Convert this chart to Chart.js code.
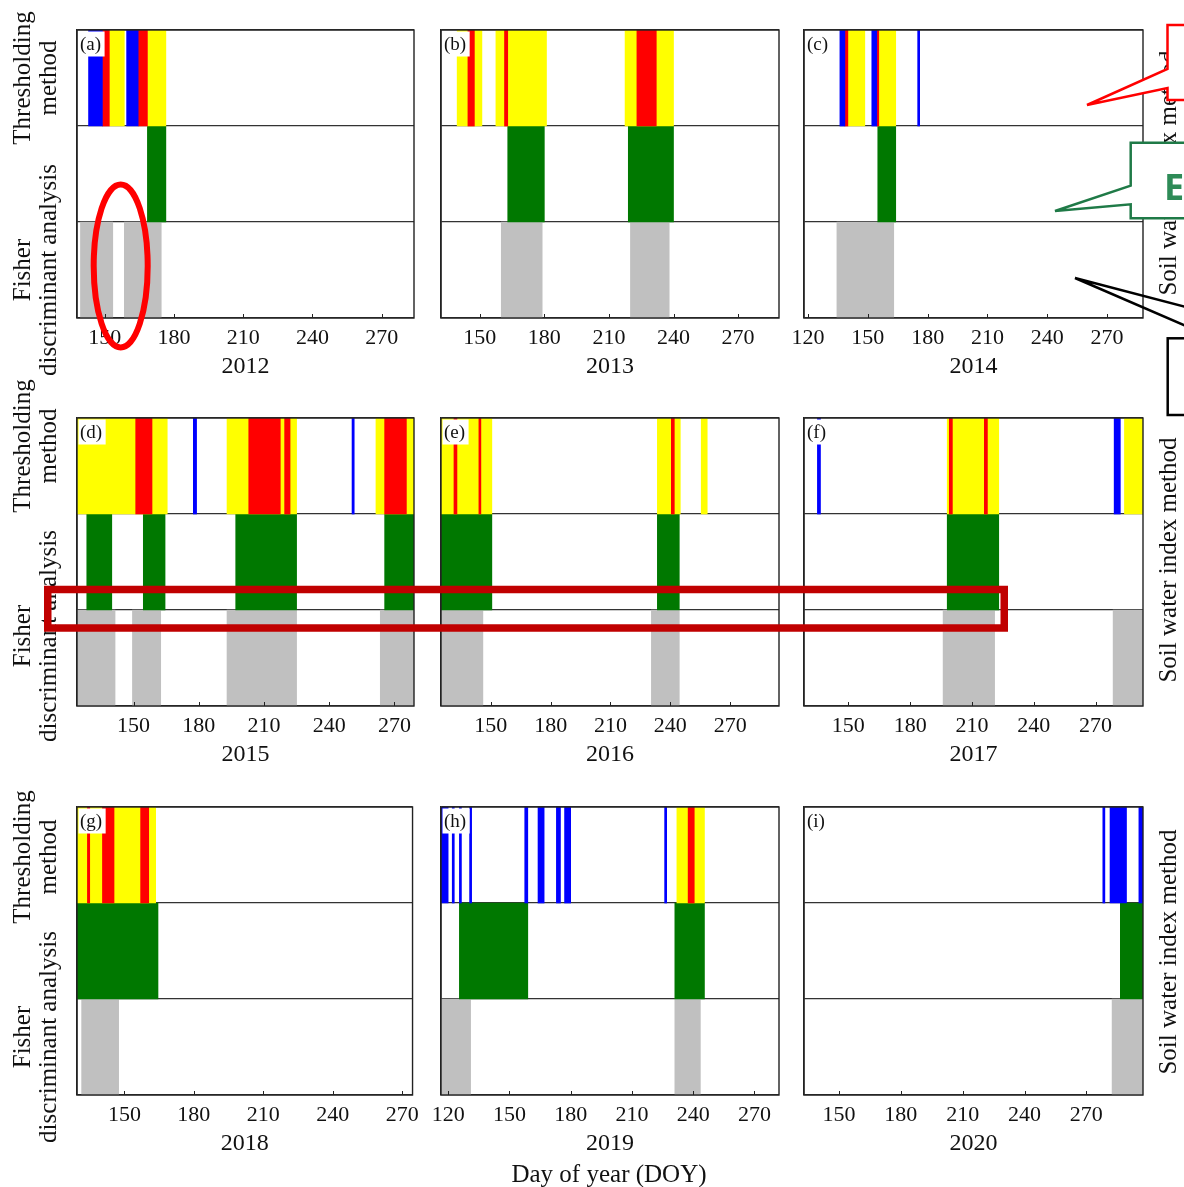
<!DOCTYPE html>
<html><head><meta charset="utf-8">
<script src="https://cdn.jsdelivr.net/npm/chart.js@4.4.1/dist/chart.umd.min.js"></script>
<style>
html,body{margin:0;padding:0;background:#fff;}
#page{position:relative;width:1184px;height:1187px;overflow:hidden;background:#fff;font-family:'Liberation Serif','Times New Roman',serif;}
#page canvas{position:absolute;}
.rot{position:absolute;transform:rotate(-90deg);white-space:nowrap;text-align:center;font-size:25px;line-height:26px;color:#111;z-index:3;}
.flat{position:absolute;white-space:nowrap;text-align:center;font-size:25px;color:#111;z-index:3;}
#ann{position:absolute;left:0;top:0;z-index:5;}
</style></head><body><div id="page"></div>
<script>
// ---------- data ----------
const years = ['2012','2013','2014','2015','2016','2017','2018','2019','2020'];
const panelTags = ['(a)','(b)','(c)','(d)','(e)','(f)','(g)','(h)','(i)'];
const rowNames = ['Thresholding method','Fisher discriminant analysis','Soil water index method'];
const doyMin = [138,132,118,124,125,128.5,129.5,116.5,133];
const doyMax = [284,289,288,279,294.5,293,274.5,282,297.5];
const tickStep = 30;
const xTitle = 'Day of year (DOY)';

const blueSpans = [
  [[143,149],[159.5,164.5]],
  [],
  [[136,138.5],[152,154.5],[175,176]],
  [[177.5,179],[250.5,251.5]],
  [],
  [[135,136.5],[279,282]],
  [],
  [[116.5,120],[122,123],[125.5,126.5],[130.5,131.5],[157.5,159],[164,167],[173,175],[177,180],[226,227]],
  [[278,279],[281.5,289.5],[295.5,297.5]]
];
const redSpans = [
  [[149,152],[164.5,168.5]],
  [[144.5,147.5],[161.5,163],[223,232]],
  [[138.5,140],[154.5,155.5]],
  [[151,158.5],[203,217.5],[219.5,222],[265.5,275.5]],
  [[131.5,133],[144,145],[240.5,242]],
  [[199,200.5],[216,217.5]],
  [[134,135],[140.5,145.5],[157,160.5]],
  [[237.5,240.5]],
  []
];
const yellowSpans = [
  [[152,158.5],[168.5,176.5]],
  [[139.5,151],[157.5,181],[217.5,240]],
  [[140,148.5],[155,164]],
  [[124,165.5],[193,225],[261.5,279]],
  [[125,150.5],[233.5,245],[255.5,258.5]],
  [[198,223],[284,293]],
  [[129.5,163.5]],
  [[232,245.5]],
  []
];
const greenSpans = [
  [[168.5,176.5]],
  [[163,180],[219,240]],
  [[155,164]],
  [[128.5,140],[154.5,164.5],[197,225],[265.5,279]],
  [[125,150.5],[233.5,244.5]],
  [[198,223]],
  [[129.5,164.5]],
  [[125.5,159],[231,245.5]],
  [[286.5,297.5]]
];
const graySpans = [
  [[139.5,153.5],[158.5,174.5]],
  [[160,179],[220,238]],
  [[134.5,163]],
  [[124,141.5],[149.5,162.5],[193,225],[263.5,279]],
  [[125,146],[230.5,244.5]],
  [[196,221],[278.5,293]],
  [[131.5,147.5]],
  [[116.5,131],[231,243.5]],
  [[282.5,297.5]]
];

// ---------- layout ----------
const colL = [77, 441, 804], colR = [414, 779, 1143];
const rowT = [30, 418, 807], plotH = 288;
const PADL = 40, PADR = 12, PADT = 10, AXH = 70;
const serif = "'Liberation Serif','Times New Roman',serif";
const page = document.getElementById('page');

const framePlugin = {
  id: 'frame',
  afterDraw(chart, args, opts) {
    const {ctx, chartArea: a, scales: {x}} = chart;
    ctx.save();
    ctx.strokeStyle = '#222'; ctx.lineWidth = 1.4;
    ctx.strokeRect(a.left, a.top, a.right - a.left, a.bottom - a.top);
    ctx.beginPath();
    x.ticks.forEach(t => {
      const px = Math.round(x.getPixelForValue(t.value)) + 0.5;
      ctx.moveTo(px, a.bottom); ctx.lineTo(px, a.bottom - 4);
    });
    ctx.lineWidth = 1; ctx.stroke();
    ctx.font = '19px ' + serif;
    const w = ctx.measureText(opts.tag).width;
    ctx.fillStyle = '#fff';
    ctx.fillRect(a.left + 1.5, a.top + 1.5, w + 5, 25);
    ctx.fillStyle = '#111'; ctx.textBaseline = 'middle'; ctx.textAlign = 'left';
    ctx.fillText(opts.tag, a.left + 3, a.top + 15);
    ctx.restore();
  }
};

function ds(spans, row, color, order) {
  return {data: spans.map(s => ({x: s, y: rowNames[row]})), backgroundColor: color,
    borderWidth: 0, borderSkipped: false, grouped: false, order: order,
    barPercentage: 1, categoryPercentage: 1};
}

for (let i = 0; i < 9; i++) {
  const c = i % 3, r = Math.floor(i / 3);
  const cv = document.createElement('canvas');
  const W = colR[c] - colL[c] + PADL + PADR, H = PADT + plotH + AXH;
  cv.width = W; cv.height = H;
  cv.style.width = W + 'px'; cv.style.height = H + 'px';
  cv.style.left = (colL[c] - PADL) + 'px'; cv.style.top = (rowT[r] - PADT) + 'px';
  page.appendChild(cv);
  new Chart(cv, {
    type: 'bar',
    data: {
      labels: rowNames,
      datasets: [
        ds(blueSpans[i], 0, '#0000ff', 1),
        ds(redSpans[i], 0, '#ff0000', 2),
        ds(yellowSpans[i], 0, '#ffff00', 3),
        ds(greenSpans[i], 1, '#007800', 4),
        ds(graySpans[i], 2, '#c0c0c0', 5)
      ]
    },
    options: {
      indexAxis: 'y', responsive: false, animation: false, devicePixelRatio: 1,
      layout: {padding: {left: PADL, right: PADR, top: PADT, bottom: 0}},
      plugins: {legend: {display: false}, tooltip: {enabled: false}, frame: {tag: panelTags[i]}},
      scales: {
        x: {
          type: 'linear', position: 'bottom', min: doyMin[i], max: doyMax[i],
          ticks: {stepSize: tickStep, includeBounds: false, autoSkip: false, maxRotation: 0,
            color: '#111', padding: 7, font: {family: serif, size: 22}},
          grid: {display: false, drawTicks: false}, border: {display: false},
          title: {display: true, text: years[i], color: '#111', font: {family: serif, size: 24},
            padding: {top: 0, bottom: 7}},
          afterFit: s => { s.height = AXH; }
        },
        y: {
          type: 'category', offset: true,
          ticks: {display: false},
          grid: {display: true, offset: true, color: '#333', lineWidth: 1.3, drawTicks: false},
          border: {display: true, color: '#222', width: 1.4},
          afterFit: s => { s.width = 0; }
        }
      }
    },
    plugins: [framePlugin]
  });
}

// ---------- side labels ----------
function rotLabel(lines, cx, cy) {
  const d = document.createElement('div');
  d.className = 'rot';
  const w = 320, h = lines.length * 26;
  d.style.width = w + 'px'; d.style.height = h + 'px';
  d.style.left = (cx - w / 2) + 'px'; d.style.top = (cy - h / 2) + 'px';
  d.innerHTML = lines.join('<br>');
  page.appendChild(d);
}
const leftThreshY = [78, 446, 857], leftFdaY = [270, 636, 1037], rightY = [173, 560, 952];
for (let r = 0; r < 3; r++) {
  rotLabel(['Thresholding', 'method'], 35, leftThreshY[r]);
  rotLabel(['Fisher', 'discriminant analysis'], 35, leftFdaY[r]);
  rotLabel([rowNames[2]], 1168, rightY[r]);
}
const xt = document.createElement('div');
xt.className = 'flat';
xt.style.left = '409px'; xt.style.width = '400px'; xt.style.top = '1160px';
xt.textContent = xTitle;
page.appendChild(xt);

// ---------- annotations ----------
const NS = 'http://www.w3.org/2000/svg';
const svg = document.createElementNS(NS, 'svg');
svg.setAttribute('id', 'ann'); svg.setAttribute('width', 1184); svg.setAttribute('height', 1187);
function el(tag, attrs) {
  const e = document.createElementNS(NS, tag);
  for (const k in attrs) e.setAttribute(k, attrs[k]);
  svg.appendChild(e); return e;
}
el('ellipse', {cx: 120.7, cy: 266, rx: 27, ry: 81.5, fill: 'none', stroke: '#ff0000', 'stroke-width': 6});
el('rect', {x: 47.75, y: 589.5, width: 956.5, height: 38.5, fill: 'none', stroke: '#c00000', 'stroke-width': 7.5});
el('polygon', {points: '1200,25 1167.5,25 1167.5,69 1087,105 1167.5,88 1167.5,100 1200,100',
  fill: '#fff', stroke: '#ff0000', 'stroke-width': 2.5});
el('polygon', {points: '1200,142.7 1130.7,142.7 1130.7,185.7 1055,211 1130.7,204.3 1130.7,218.3 1200,218.3',
  fill: '#fff', stroke: '#1f7a47', 'stroke-width': 2.5});
el('polyline', {points: '1186,307 1075,278 1186,326', fill: 'none', stroke: '#000', 'stroke-width': 2.5});
el('rect', {x: 1167.7, y: 338.3, width: 40, height: 76.7, fill: '#fff', stroke: '#000', 'stroke-width': 2.5});
const g = el('text', {x: 1164, y: 200, fill: '#2e8b57', 'font-size': 36, 'font-weight': 'bold',
  'font-family': "'Noto Sans','DejaVu Sans',sans-serif"});
g.textContent = 'E';
page.appendChild(svg);
</script></body></html>
